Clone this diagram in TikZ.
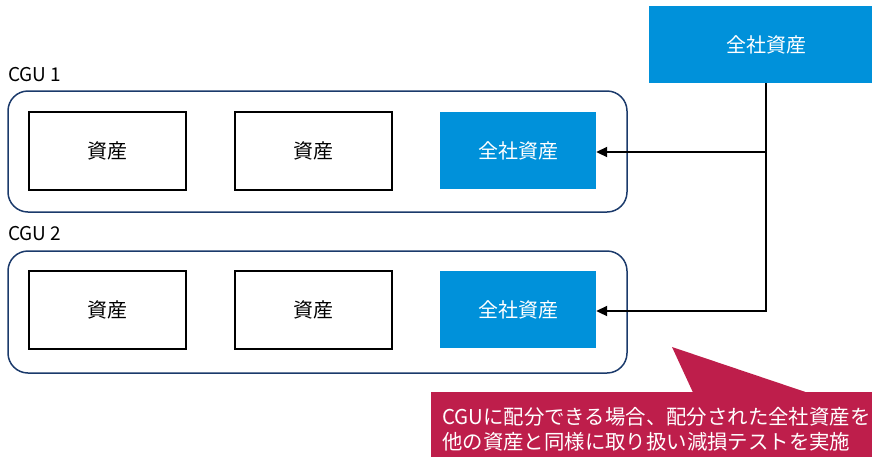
\documentclass[tikz,border=0pt]{standalone}
\usepackage{fontspec}
\setmainfont{Noto Sans CJK JP}
\usetikzlibrary{arrows.meta,positioning}
\definecolor{cblue}{HTML}{0091DA}
\definecolor{cnavy}{HTML}{1B3A6B}
\definecolor{ccrim}{HTML}{BE1E4B}
\tikzset{
  asset/.style={draw=black,line width=1.3pt,fill=white,minimum width=157pt,minimum height=78pt,inner sep=0pt,font=\fontsize{20}{22}\selectfont},
  corp/.style={fill=cblue,text=white,minimum width=156pt,minimum height=77pt,inner sep=0pt,font=\fontsize{20}{22}\selectfont},
  cgu/.style={draw=cnavy,line width=1.5pt,rounded corners=20pt},
  cgulabel/.style={anchor=west,inner sep=0pt,font=\fontsize{19}{22}\selectfont},
  arr/.style={line width=2pt,-{Triangle[length=11pt,width=10pt]}},
}
\begin{document}
\begin{tikzpicture}[x=1pt,y=-1pt]
\useasboundingbox (0,0) rectangle (872,456);
% top corporate asset
\node[fill=cblue,text=white,minimum width=234pt,minimum height=77pt,inner sep=0pt,font=\fontsize{20}{22}\selectfont] (top) at (766,44.5) {全社資産};
% CGU 1
\node[cgulabel] (l1) at (8,75) {CGU 1};
\draw[cgu] (8,91) rectangle (627,212);
\node[asset] (a11) at (107.5,151) {資産};
\node[asset] (a12) at (313.5,151) {資産};
\node[corp] (b1) at (518,150.5) {全社資産};
% CGU 2
\node[cgulabel] (l2) at (8,234) {CGU 2};
\draw[cgu] (8,251) rectangle (627,373);
\node[asset] (a21) at (107.5,310) {資産};
\node[asset] (a22) at (313.5,310) {資産};
\node[corp] (b2) at (518,309.5) {全社資産};
% connectors
\draw[arr] (top.south) |- ([yshift=-1.5pt]b1.east);
\draw[arr] (top.south) |- ([yshift=-1.5pt]b2.east);
% callout
\node[fill=ccrim,minimum width=452pt,minimum height=70pt,anchor=north west,inner sep=0pt] (co) at (431,391.5) {};
\fill[ccrim] (672,347) -- (693,392.5) -- (807,392.5) -- cycle;
\node[anchor=west,inner sep=0pt,text=white,align=left,font=\fontsize{20.4}{24.5}\selectfont] (ct) at (442,429) {CGUに配分できる場合、配分された全社資産を\\他の資産と同様に取り扱い減損テストを実施};
\end{tikzpicture}
\end{document}
